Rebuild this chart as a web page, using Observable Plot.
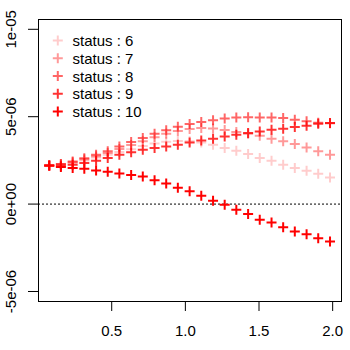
<!DOCTYPE html>
<html>
<head>
<meta charset="utf-8">
<script src="https://cdn.jsdelivr.net/npm/d3@7"></script>
<script src="https://cdn.jsdelivr.net/npm/@observablehq/plot@0.6"></script>
<style>
  html, body { margin: 0; padding: 0; background: #fff; }
  #chart { width: 350px; height: 350px; }
</style>
</head>
<body>
<div id="chart"></div>
<script>
// ---- data (y values in units of 1e-6) ----
const unit = 1e-6;
const xs = [0.076, 0.155, 0.235, 0.314, 0.394, 0.473, 0.552, 0.632, 0.711, 0.791,
            0.870, 0.949, 1.029, 1.108, 1.188, 1.267, 1.346, 1.426, 1.505, 1.585,
            1.664, 1.743, 1.823, 1.902, 1.982];
const status6  = [2.20, 2.26, 2.36, 2.50, 2.66, 2.82, 2.98, 3.14, 3.32, 3.46, 3.56, 3.61, 3.60, 3.53, 3.40, 3.21, 3.05, 2.86, 2.63, 2.48, 2.25, 2.06, 1.91, 1.74, 1.52];
const status7  = [2.21, 2.28, 2.40, 2.56, 2.74, 2.92, 3.15, 3.38, 3.60, 3.82, 4.02, 4.18, 4.30, 4.35, 4.32, 4.24, 4.13, 4.03, 3.91, 3.74, 3.59, 3.44, 3.24, 3.03, 2.82];
const status8  = [2.22, 2.30, 2.44, 2.62, 2.82, 3.02, 3.30, 3.55, 3.78, 4.03, 4.22, 4.42, 4.58, 4.70, 4.80, 4.90, 4.96, 4.97, 4.96, 4.95, 4.92, 4.83, 4.74, 4.66, 4.62];
const status9  = [2.20, 2.19, 2.25, 2.35, 2.48, 2.63, 2.82, 2.96, 3.11, 3.21, 3.30, 3.40, 3.53, 3.64, 3.74, 3.87, 3.97, 4.07, 4.16, 4.26, 4.31, 4.41, 4.48, 4.60, 4.64];
const status10 = [2.21, 2.12, 2.06, 2.02, 1.92, 1.85, 1.75, 1.66, 1.58, 1.37, 1.18, 0.93, 0.73, 0.48, 0.19, -0.04, -0.33, -0.57, -0.90, -1.05, -1.32, -1.57, -1.72, -1.95, -2.14];
const seriesNames = ["status : 6", "status : 7", "status : 8", "status : 9", "status : 10"];
const seriesValues = [status6, status7, status8, status9, status10];
const seriesAlpha = [0.2, 0.4, 0.6, 0.8, 1.0];
const xTicks = [0.5, 1.0, 1.5, 2.0];
const xTickLabels = ["0.5", "1.0", "1.5", "2.0"];
const yTicks = [-5e-6, 0, 5e-6, 1e-5];
const yTickLabels = ["-5e-06", "0e+00", "5e-06", "1e-05"];

// ---- build table ----
const rows = [];
seriesValues.forEach((vals, s) => vals.forEach((v, i) => rows.push({series: s, x: xs[i], y: v * unit})));

// custom "+" symbol (R pch = 3)
const plus = {
  draw(ctx, size) {
    const r = Math.sqrt(size / Math.PI);
    ctx.moveTo(-r, 0); ctx.lineTo(r, 0);
    ctx.moveTo(0, -r); ctx.lineTo(0, r);
  }
};

const font = "'Liberation Sans', Arial, Helvetica, sans-serif";

const marks = [
  Plot.ruleY([0], {stroke: "black", strokeWidth: 1, strokeDasharray: "2,2"}),
  ...seriesValues.map((_, s) => Plot.dot(rows.filter(d => d.series === s), {
    x: "x", y: "y", symbol: plus, r: 5, stroke: "red", strokeWidth: 2, strokeOpacity: seriesAlpha[s]
  })),
  Plot.frame({stroke: "black", strokeWidth: 1}),
  Plot.axisX({ticks: xTicks, tickSize: 10, tickPadding: 14, label: null,
    tickFormat: d => xTickLabels[xTicks.indexOf(d)], fontSize: 15, stroke: "black"}),
  Plot.axisY({ticks: yTicks, tickSize: 10, label: null, tickFormat: () => "", stroke: "black"}),
  Plot.text(yTicks, {y: d => d, text: (d, i) => yTickLabels[i], frameAnchor: "left", dx: -27.5, rotate: -90,
    textAnchor: "middle", lineAnchor: "middle", fontSize: 15, fill: "black"}),
  ...seriesNames.map((name, i) => Plot.dot([name], {frameAnchor: "top-left", dx: 19.3, dy: 21 + i * 17.75,
    symbol: plus, r: 5, stroke: "red", strokeWidth: 2, strokeOpacity: seriesAlpha[i]})),
  ...seriesNames.map((name, i) => Plot.text([name], {frameAnchor: "top-left", dx: 34, dy: 21.9 + i * 17.75,
    text: d => d, textAnchor: "start", lineAnchor: "middle", fontSize: 15, fill: "black"}))
];

const chart = Plot.plot({
  width: 350,
  height: 350,
  marginLeft: 38,
  marginRight: 9,
  marginTop: 19,
  marginBottom: 49,
  style: {fontFamily: font, fontSize: "15px", background: "white", color: "black"},
  x: {domain: [0.003, 2.06], axis: null},
  y: {domain: [-5.573e-6, 1.0561e-5], axis: null},
  marks
});
document.getElementById("chart").appendChild(chart);
</script>
</body>
</html>
